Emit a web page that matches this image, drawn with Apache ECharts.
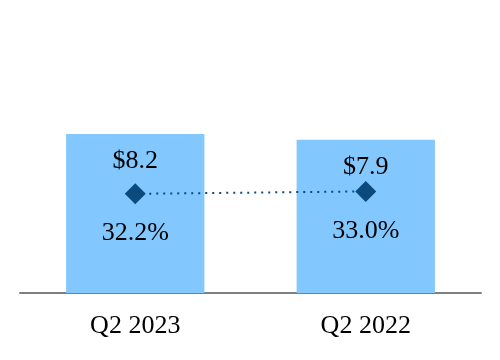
<!DOCTYPE html>
<html><head><meta charset="utf-8">
<script src="https://cdn.jsdelivr.net/npm/echarts@6/dist/echarts.min.js"></script>
<style>html,body{margin:0;padding:0;background:#fff}#c{width:500px;height:360px}</style>
</head><body><div id="c"></div>
<script>
const categories = ['Q2 2023', 'Q2 2022'];
const revenue = [8.2, 7.9];
const margin = [32.2, 33.0];
const revenueLabels = ['$8.2', '$7.9'];
const marginLabels = ['32.2%', '33.0%'];

const font = '"Liberation Serif", "Times New Roman", serif';
const chart = echarts.init(document.getElementById('c'), null, {renderer: 'canvas'});
chart.setOption({
  animation: false,
  grid: {left: 20, right: 19, top: 99, bottom: 67},
  xAxis: {
    type: 'category', data: categories,
    axisLine: {lineStyle: {color: '#7f7f7f', width: 2}},
    axisTick: {show: false},
    axisLabel: {color: '#000', fontFamily: font, fontSize: 26, margin: 20}
  },
  yAxis: [
    {type: 'value', min: 0, max: 10, show: false, splitLine: {show: false}},
    {type: 'value', min: 0, max: 63, show: false, splitLine: {show: false}}
  ],
  series: [
    {
      type: 'bar', data: revenue, barWidth: '60%', yAxisIndex: 0,
      itemStyle: {color: '#82C8FE'},
      label: {show: true, position: 'insideTop', distance: 14,
        formatter: p => revenueLabels[p.dataIndex],
        color: '#000', fontFamily: font, fontSize: 26}
    },
    {
      type: 'line', data: margin, yAxisIndex: 1,
      symbol: 'diamond', symbolSize: 21,
      itemStyle: {color: '#0B4A7C'},
      lineStyle: {color: '#0B4A7C', width: 2, type: [2, 5]},
      label: {show: true, position: 'bottom', distance: 16,
        formatter: p => marginLabels[p.dataIndex],
        color: '#000', fontFamily: font, fontSize: 26}
    }
  ]
});
</script></body></html>
